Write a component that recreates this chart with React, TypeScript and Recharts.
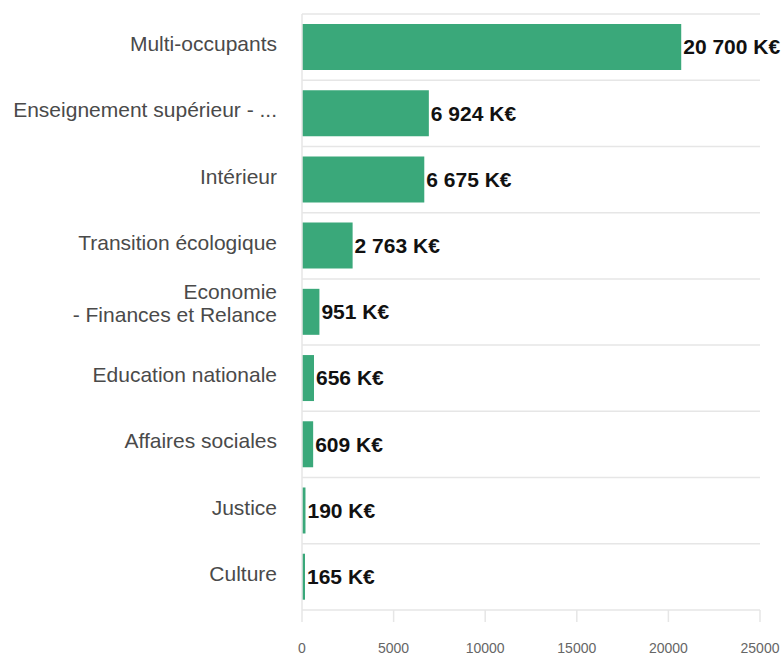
import React from "react";
import { Bar, BarChart, CartesianGrid, LabelList, XAxis, YAxis } from "recharts";

const categories = [
  "Multi-occupants",
  "Enseignement supérieur - ...",
  "Intérieur",
  "Transition écologique",
  "Economie\n- Finances et Relance",
  "Education nationale",
  "Affaires sociales",
  "Justice",
  "Culture",
];

const amounts = [20700, 6924, 6675, 2763, 951, 656, 609, 190, 165];

const xTicks = [0, 5000, 10000, 15000, 20000, 25000];

const data = categories.map((name, i) => ({ name, value: amounts[i] }));

const FONT = "'Liberation Sans', Arial, sans-serif";
const GRID = "#e6e6e6";

function formatKE(v: number) {
  return String(v).replace(/\B(?=(\d{3})+(?!\d))/g, " ") + " K€";
}

function CategoryTick(props: any) {
  const { x, y, payload } = props;
  const lines = String(payload.value).split("\n");
  if (lines.length === 1) {
    return (
      <text x={x} y={y} dy={4} textAnchor="end" fill="#4a4a4a" fontSize={21} fontFamily={FONT}>
        {lines[0]}
      </text>
    );
  }
  return (
    <text x={x} y={y} textAnchor="end" fill="#4a4a4a" fontSize={21} fontFamily={FONT}>
      <tspan x={x} dy={-13}>{lines[0]}</tspan>
      <tspan x={x} dy={22.5}>{lines[1]}</tspan>
    </text>
  );
}

export default function App() {
  return (
    <div style={{ position: "absolute", left: 0, top: 0, background: "#fff" }}>
      <BarChart
        width={784}
        height={655}
        data={data}
        layout="vertical"
        margin={{ top: 14, right: 24, bottom: 0, left: 0 }}
        barCategoryGap="15%"
      >
        <CartesianGrid
          vertical={false}
          stroke={GRID}
          strokeWidth={1.5}
          horizontalCoordinatesGenerator={({ offset }: any) =>
            categories.map((_, i) => offset.top + (i * offset.height) / categories.length)
          }
        />
        <XAxis
          type="number"
          domain={[0, 25000]}
          ticks={xTicks}
          height={45}
          axisLine={{ stroke: GRID, strokeWidth: 1.5 }}
          tickLine={{ stroke: GRID, strokeWidth: 1.5 }}
          tickSize={12}
          tickMargin={21}
          tick={{ fill: "#666", fontSize: 14, fontFamily: FONT }}
          interval={0}
        />
        <YAxis
          type="category"
          dataKey="name"
          width={302}
          axisLine={{ stroke: GRID, strokeWidth: 1.5 }}
          tickLine={false}
          tickSize={0}
          tickMargin={25}
          tick={<CategoryTick />}
          interval={0}
        />
        <Bar dataKey="value" fill="#3aa87a" isAnimationActive={false}>
          <LabelList
            dataKey="value"
            position="right"
            offset={2}
            formatter={(v: any) => formatKE(Number(v))}
            fill="#111"
            fontSize={21}
            fontWeight="bold"
            fontFamily={FONT}
          />
        </Bar>
      </BarChart>
    </div>
  );
}
